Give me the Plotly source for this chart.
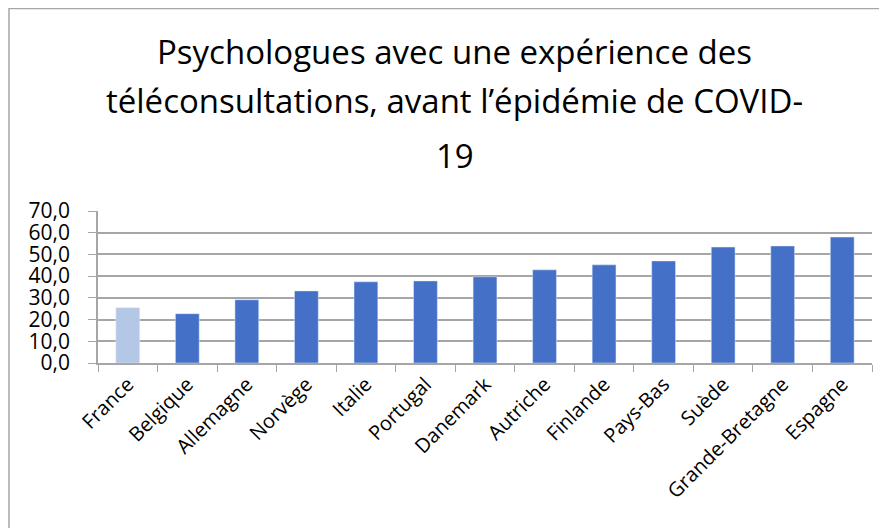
import plotly.graph_objects as go

pays = ['France', 'Belgique', 'Allemagne', 'Norvège', 'Italie', 'Portugal', 'Danemark',
        'Autriche', 'Finlande', 'Pays-Bas', 'Suède', 'Grande-Bretagne', 'Espagne']
pourcentages = [25.5, 22.7, 29.1, 33.2, 37.4, 37.8, 39.7, 42.9, 45.2, 47.0, 53.4, 53.9, 58.0]
titre = ['Psychologues avec une expérience des',
         'téléconsultations, avant l’épidémie de COVID-',
         '19']
titre_y = [2.05, 1.728, 1.367]  # position verticale de chaque ligne (paper)

couleurs = ['#b4c7e7' if p == 'France' else '#4470c8' for p in pays]

fig = go.Figure(go.Bar(x=pays, y=pourcentages, marker_color=couleurs, width=0.4))

police = 'Open Sans, Liberation Sans, sans-serif'

# titre sur trois lignes, espacement large comme dans Excel
for ligne, y in zip(titre, titre_y):
    fig.add_annotation(text=ligne, xref='paper', yref='paper', x=0.461, y=y,
                       showarrow=False, xanchor='center', yanchor='middle',
                       font=dict(family=police, size=33, color='#000000'))

# cadre du graphique
fig.add_shape(type='rect', xref='paper', yref='paper', x0=-0.115, x1=1.1, y0=-1.3, y1=2.332,
              line=dict(color='#a6a6a6', width=1.5), fillcolor='rgba(0,0,0,0)', layer='below')

fig.update_layout(
    width=887, height=528,
    margin=dict(l=90, r=23, t=203, b=173),
    plot_bgcolor='white', paper_bgcolor='white',
    separators=', ',
    showlegend=False,
    font=dict(family=police, color='#000000'),
)
fig.update_yaxes(range=[0, 70], dtick=10, tickformat='.1f', showgrid=True, gridcolor='#a6a6a6',
                 gridwidth=1.5, showline=True, linecolor='#a6a6a6', linewidth=1.5,
                 ticks='outside', ticklen=8, tickcolor='#a6a6a6', tickfont=dict(size=21),
                 ticklabelstandoff=14, zeroline=False)
fig.update_xaxes(tickangle=-45, tickfont=dict(size=20), showline=True, linecolor='#a6a6a6',
                 linewidth=1.5, ticks='outside', ticklen=7, tickcolor='#a6a6a6',
                 tickson='boundaries')

fig.write_html("out.html")
